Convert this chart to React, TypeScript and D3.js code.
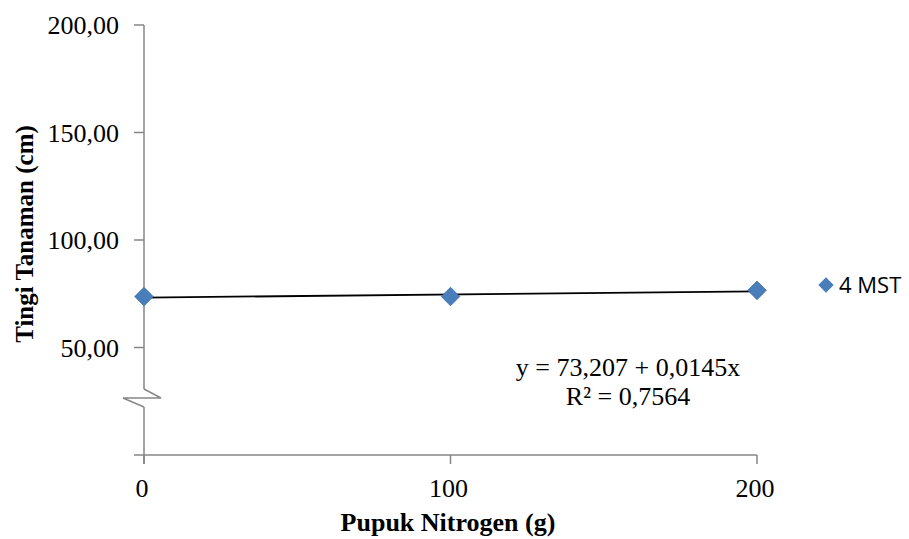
import { useEffect, useRef } from 'react';
import * as d3 from 'd3';

const doses = [0, 100, 200];
const heights4MST = [73.68, 73.71, 76.58];
const yTicks = [50, 100, 150, 200];
const xTicks = [0, 100, 200];
const trend = { intercept: 73.207, slope: 0.0145 };
const seriesName = '4 MST';

const W = 909;
const H = 539;

export default function App() {
  const ref = useRef<SVGSVGElement>(null);

  useEffect(() => {
    if (!ref.current) return;
    const svg = d3.select(ref.current);
    svg.selectAll('*').remove();

    const x = d3.scaleLinear().domain([0, 200]).range([144, 757]);
    const y = d3.scaleLinear().domain([0, 200]).range([455, 25]);
    const axisColor = '#868686';
    const serif = '"Liberation Serif", "Times New Roman", serif';

    // y axis, broken near the bottom
    const yAxis = svg.append('g');
    yAxis.append('line').attr('x1', x(0)).attr('x2', x(0)).attr('y1', y(200)).attr('y2', 389);
    yAxis.append('line').attr('x1', x(0)).attr('x2', x(0)).attr('y1', 407).attr('y2', 464);
    yAxis.selectAll('line').attr('stroke', axisColor).attr('stroke-width', 1.5);
    yAxis
      .append('polyline')
      .attr('points', '144,389 161,398 123,398 144,407')
      .attr('fill', 'none')
      .attr('stroke', axisColor)
      .attr('stroke-width', 1.5)
      .attr('stroke-linejoin', 'miter');

    yTicks.forEach((t) => {
      yAxis
        .append('line')
        .attr('x1', x(0) - 10)
        .attr('x2', x(0))
        .attr('y1', y(t))
        .attr('y2', y(t))
        .attr('stroke', axisColor)
        .attr('stroke-width', 1.5);
      yAxis
        .append('text')
        .attr('x', 119)
        .attr('y', y(t) + 9)
        .attr('text-anchor', 'end')
        .style('font-family', serif)
        .style('font-size', '26px')
        .text(t.toFixed(2).replace('.', ','));
    });

    // x axis
    const xAxis = svg.append('g');
    xAxis
      .append('line')
      .attr('x1', x(0) - 10)
      .attr('x2', x(200))
      .attr('y1', y(0))
      .attr('y2', y(0))
      .attr('stroke', axisColor)
      .attr('stroke-width', 1.5);
    xTicks.forEach((t) => {
      xAxis
        .append('line')
        .attr('x1', x(t))
        .attr('x2', x(t))
        .attr('y1', y(0))
        .attr('y2', y(0) + 9)
        .attr('stroke', axisColor)
        .attr('stroke-width', 1.5);
      xAxis
        .append('text')
        .attr('x', x(t) - 2)
        .attr('y', 497)
        .attr('text-anchor', 'middle')
        .style('font-family', serif)
        .style('font-size', '26px')
        .text(String(t));
    });

    // titles
    svg
      .append('text')
      .attr('x', 448)
      .attr('y', 531)
      .attr('text-anchor', 'middle')
      .style('font-family', serif)
      .style('font-weight', 'bold')
      .style('font-size', '26px')
      .text('Pupuk Nitrogen (g)');
    svg
      .append('text')
      .attr('transform', 'translate(33,234) rotate(-90)')
      .attr('text-anchor', 'middle')
      .style('font-family', serif)
      .style('font-weight', 'bold')
      .style('font-size', '25px')
      .text('Tingi Tanaman (cm)');

    // trend line
    const line = d3
      .line<number>()
      .x((d) => x(d))
      .y((d) => y(trend.intercept + trend.slope * d));
    svg
      .append('path')
      .attr('d', line([0, 200]))
      .attr('fill', 'none')
      .attr('stroke', '#000')
      .attr('stroke-width', 1.8);

    // points
    const diamond = d3.symbol().type(d3.symbolDiamond2).size(220);
    svg
      .selectAll('.pt')
      .data(doses)
      .enter()
      .append('path')
      .attr('class', 'pt')
      .attr('d', diamond)
      .attr('transform', (d, i) => `translate(${x(d)},${y(heights4MST[i])})`)
      .attr('fill', '#4a7ebb')
      .attr('stroke', '#3f6fa8')
      .attr('stroke-width', 0.8);

    // equation
    const eq = svg
      .append('text')
      .attr('text-anchor', 'middle')
      .style('font-family', serif)
      .style('font-size', '26px');
    eq.append('tspan').attr('x', 628).attr('y', 376).text('y = 73,207 + 0,0145x');
    eq.append('tspan').attr('x', 628).attr('y', 405).text('R² = 0,7564');

    // legend
    svg
      .append('path')
      .attr('d', d3.symbol().type(d3.symbolDiamond2).size(150)())
      .attr('transform', 'translate(826,285)')
      .attr('fill', '#4a7ebb');
    svg
      .append('text')
      .attr('x', 839)
      .attr('y', 293)
      .style('font-family', '"Open Sans", "Liberation Sans", sans-serif')
      .style('font-size', '22px')
      .text(seriesName);
  }, []);

  return (
    <svg
      ref={ref}
      width={W}
      height={H}
      style={{ position: 'absolute', left: 0, top: 0, background: '#fff' }}
    />
  );
}
